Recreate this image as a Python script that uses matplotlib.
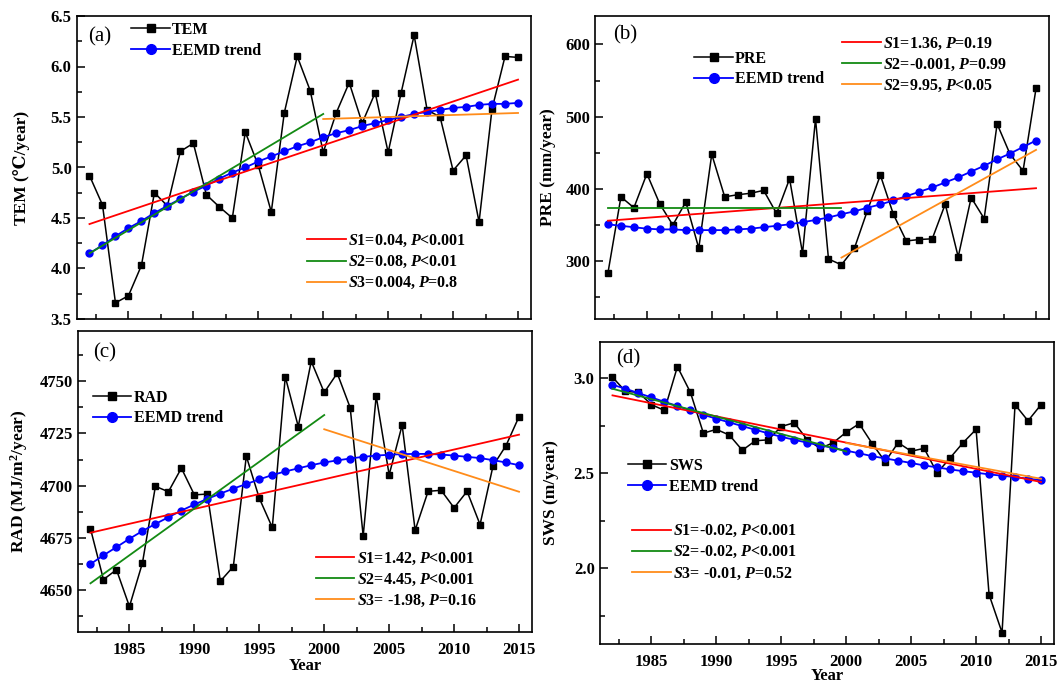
import matplotlib
matplotlib.use('Agg')
import matplotlib.pyplot as plt
from matplotlib.ticker import MultipleLocator, FormatStrFormatter

plt.rcParams['font.family'] = ['Liberation Serif', 'DejaVu Serif']
plt.rcParams['font.weight'] = 'bold'
plt.rcParams['mathtext.fontset'] = 'custom'
plt.rcParams['mathtext.rm'] = 'Liberation Serif:bold'
plt.rcParams['mathtext.it'] = 'Liberation Serif:italic:bold'
plt.rcParams['mathtext.bf'] = 'Liberation Serif:bold'

years = list(range(1982, 2016))

# (a) temperature
tem = [4.92, 4.63, 3.66, 3.73, 4.03, 4.75, 4.62, 5.16, 5.24, 4.73, 4.61, 4.50, 5.35, 5.02,
       4.56, 5.54, 6.10, 5.76, 5.15, 5.54, 5.84, 5.44, 5.74, 5.15, 5.74, 6.31, 5.57, 5.50,
       4.97, 5.12, 4.46, 5.58, 6.10, 6.09]
tem_trend = [4.15, 4.23, 4.32, 4.40, 4.47, 4.55, 4.62, 4.69, 4.76, 4.82, 4.89, 4.95, 5.00, 5.06,
             5.11, 5.16, 5.21, 5.25, 5.30, 5.34, 5.37, 5.41, 5.44, 5.47, 5.50, 5.53, 5.55, 5.57,
             5.59, 5.60, 5.62, 5.63, 5.63, 5.64]

# (b) precipitation
pre = [284, 389, 374, 421, 379, 350, 382, 318, 448, 389, 392, 394, 398, 366, 414, 311, 497,
       303, 295, 318, 370, 419, 365, 328, 330, 331, 379, 306, 388, 359, 490, 448, 425, 539]
pre_trend = [351, 349, 347, 345, 344, 344, 343, 343, 343, 343, 344, 345, 347, 349, 351, 354, 357,
             360.5, 365, 369, 374, 378.5, 384, 390, 396, 402, 409, 416, 424, 432, 441, 449, 458, 467]

# (c) radiation
rad = [4679.4, 4655.1, 4659.8, 4642.2, 4663.0, 4699.7, 4697.1, 4708.4, 4695.6, 4696.0, 4654.3,
       4661.3, 4714.1, 4694.0, 4680.0, 4752.1, 4728.3, 4759.5, 4744.6, 4753.8, 4737.3, 4675.9,
       4742.9, 4705.2, 4729.0, 4678.7, 4697.3, 4697.8, 4689.4, 4697.3, 4681.4, 4709.5, 4719.2, 4733.0]
rad_trend = [4662.5, 4666.7, 4670.6, 4674.6, 4678.3, 4681.7, 4684.9, 4688.1, 4691.0, 4693.7, 4696.2,
             4698.6, 4700.8, 4703.0, 4705.1, 4706.8, 4708.3, 4709.8, 4711.1, 4712.1, 4713.0, 4713.8,
             4714.4, 4714.8, 4715.1, 4715.2, 4715.2, 4714.9, 4714.4, 4713.8, 4713.2, 4712.2, 4711.1, 4709.8]

# (d) wind speed
sws = [3.005, 2.93, 2.925, 2.86, 2.83, 3.06, 2.925, 2.71, 2.73, 2.70, 2.62, 2.67, 2.675, 2.745,
       2.765, 2.675, 2.63, 2.66, 2.715, 2.76, 2.655, 2.56, 2.66, 2.615, 2.63, 2.50, 2.58, 2.66,
       2.73, 1.86, 1.66, 2.86, 2.775, 2.86]
sws_trend = [2.965, 2.944, 2.921, 2.898, 2.875, 2.853, 2.83, 2.807, 2.786, 2.767, 2.747, 2.728,
             2.709, 2.691, 2.675, 2.66, 2.646, 2.632, 2.618, 2.604, 2.589, 2.577, 2.565, 2.553,
             2.54, 2.53, 2.519, 2.51, 2.502, 2.493, 2.486, 2.479, 2.47, 2.463]

# linear fits: whole period, 1982-2000, 2000-2015 (end values)
s1_years = [1982, 2015]
s2_years = [1982, 2000]
s3_years = [2000, 2015]
tem_s1, tem_s2, tem_s3 = [4.44, 5.87], [4.15, 5.53], [5.48, 5.54]
pre_s1, pre_s2, pre_s3 = [356, 401], [373, 373], [305, 454]
rad_s1, rad_s2, rad_s3 = [4677.5, 4724.4], [4653.3, 4733.8], [4727.0, 4697.1]
sws_s1, sws_s2, sws_s3 = [2.909, 2.453], [2.944, 2.614], [2.658, 2.47]

tem_labels = [r'$\mathit{S1}$=0.04, $\mathit{P}$<0.001', r'$\mathit{S2}$=0.08, $\mathit{P}$<0.01',
              r'$\mathit{S3}$=0.004, $\mathit{P}$=0.8']
pre_labels = [r'$\mathit{S1}$=1.36, $\mathit{P}$=0.19', r'$\mathit{S2}$=-0.001, $\mathit{P}$=0.99',
              r'$\mathit{S2}$=9.95, $\mathit{P}$<0.05']
rad_labels = [r'$\mathit{S1}$=1.42, $\mathit{P}$<0.001', r'$\mathit{S2}$=4.45, $\mathit{P}$<0.001',
              r'$\mathit{S3}$= -1.98, $\mathit{P}$=0.16']
sws_labels = [r'$\mathit{S1}$=-0.02, $\mathit{P}$<0.001', r'$\mathit{S2}$=-0.02, $\mathit{P}$<0.001',
              r'$\mathit{S3}$= -0.01, $\mathit{P}$=0.52']

W, H = 1057, 684
fig = plt.figure(figsize=(W / 100, H / 100), dpi=100)


def px_axes(left, right, top, bottom):
    return fig.add_axes([left / W, 1 - bottom / H, (right - left) / W, (bottom - top) / H])


FS = 11.5
leg_kw = dict(frameon=False, prop={'weight': 'bold', 'size': FS}, handlelength=2.4,
              handletextpad=0.15, labelspacing=0.3, borderpad=0, borderaxespad=0)


def draw_panel(ax, name, vals, trend, s1, s2, s3, labels, ylim, ymaj, ymin, fmt, ylabel,
               ylab_x, tag, tag_pos, leg1_pos, leg2_pos, xlab_y):
    l1, = ax.plot(years, vals, '-s', color='black', lw=1.1, ms=4.5, label=name)
    l2, = ax.plot(years, trend, '-o', color='#0000ff', lw=1.3, ms=5, label='EEMD trend')
    r1, = ax.plot(s1_years, s1, color='#ff0000', lw=1.3, label=labels[0])
    r2, = ax.plot(s2_years, s2, color='#138a13', lw=1.3, label=labels[1])
    r3, = ax.plot(s3_years, s3, color='#ff8c1a', lw=1.3, label=labels[2])

    ax.set_xlim(1981, 2016)
    ax.set_ylim(*ylim)
    ax.xaxis.set_major_locator(MultipleLocator(5))
    ax.xaxis.set_minor_locator(MultipleLocator(2.5))
    ax.yaxis.set_major_locator(MultipleLocator(ymaj))
    ax.yaxis.set_minor_locator(MultipleLocator(ymin))
    ax.yaxis.set_major_formatter(FormatStrFormatter(fmt))
    ax.tick_params(which='both', direction='in', top=False, right=False, labelsize=12)
    ax.tick_params(which='major', length=6, width=1.1)
    ax.tick_params(which='minor', length=3.5, width=1.1)
    ax.tick_params(axis='x', which='both', pad=7)
    if xlab_y is None:
        ax.tick_params(labelbottom=False)
    else:
        ax.set_xlabel('Year', fontsize=12, fontweight='bold')
        ax.xaxis.set_label_coords(0.5, xlab_y)
    for sp in ax.spines.values():
        sp.set_linewidth(1.2)
    ax.set_ylabel(ylabel, fontsize=12.5, fontweight='bold')
    ax.yaxis.set_label_coords(ylab_x, 0.5)

    ax.text(tag_pos[0], tag_pos[1], tag, transform=ax.transAxes, fontsize=15,
            fontweight='normal', va='center', ha='left')

    leg1 = ax.legend([l1, l2], [name, 'EEMD trend'], loc='upper left',
                     bbox_to_anchor=leg1_pos, markerscale=1.4, **leg_kw)
    ax.add_artist(leg1)
    ax.legend([r1, r2, r3], labels, loc='upper left', bbox_to_anchor=leg2_pos, **leg_kw)


ax_a = px_axes(76.5, 531, 16, 319)
ax_b = px_axes(595, 1049, 15.5, 319)
ax_c = px_axes(77.5, 532, 331, 632)
ax_d = px_axes(599.5, 1054, 342, 644)

draw_panel(ax_a, 'TEM', tem, tem_trend, tem_s1, tem_s2, tem_s3, tem_labels, (3.5, 6.5), 0.5, 0.25,
           '%.1f', 'TEM (\u2103/year)', -0.103, '(a)', (0.026, 0.93), (0.121, 0.98), (0.508, 0.284), None)
draw_panel(ax_b, 'PRE', pre, pre_trend, pre_s1, pre_s2, pre_s3, pre_labels, (220, 640), 100, 50,
           '%d', 'PRE (mm/year)', -0.087, '(b)', (0.04, 0.937), (0.219, 0.884), (0.545, 0.934), None)
draw_panel(ax_c, 'RAD', rad, rad_trend, rad_s1, rad_s2, rad_s3, rad_labels, (4630, 4774), 25, 12.5,
           '%d', r'RAD (MJ/m$^2$/year)', -0.105, '(c)', (0.034, 0.928), (0.034, 0.805), (0.525, 0.27),
           -0.085)
draw_panel(ax_d, 'SWS', sws, sws_trend, sws_s1, sws_s2, sws_s3, sws_labels, (1.60, 3.19), 0.5, 0.25,
           '%.1f', 'SWS (m/year)', -0.09, '(d)', (0.036, 0.943), (0.063, 0.616), (0.072, 0.40),
           -0.08)

fig.savefig('out.png', dpi=100)
